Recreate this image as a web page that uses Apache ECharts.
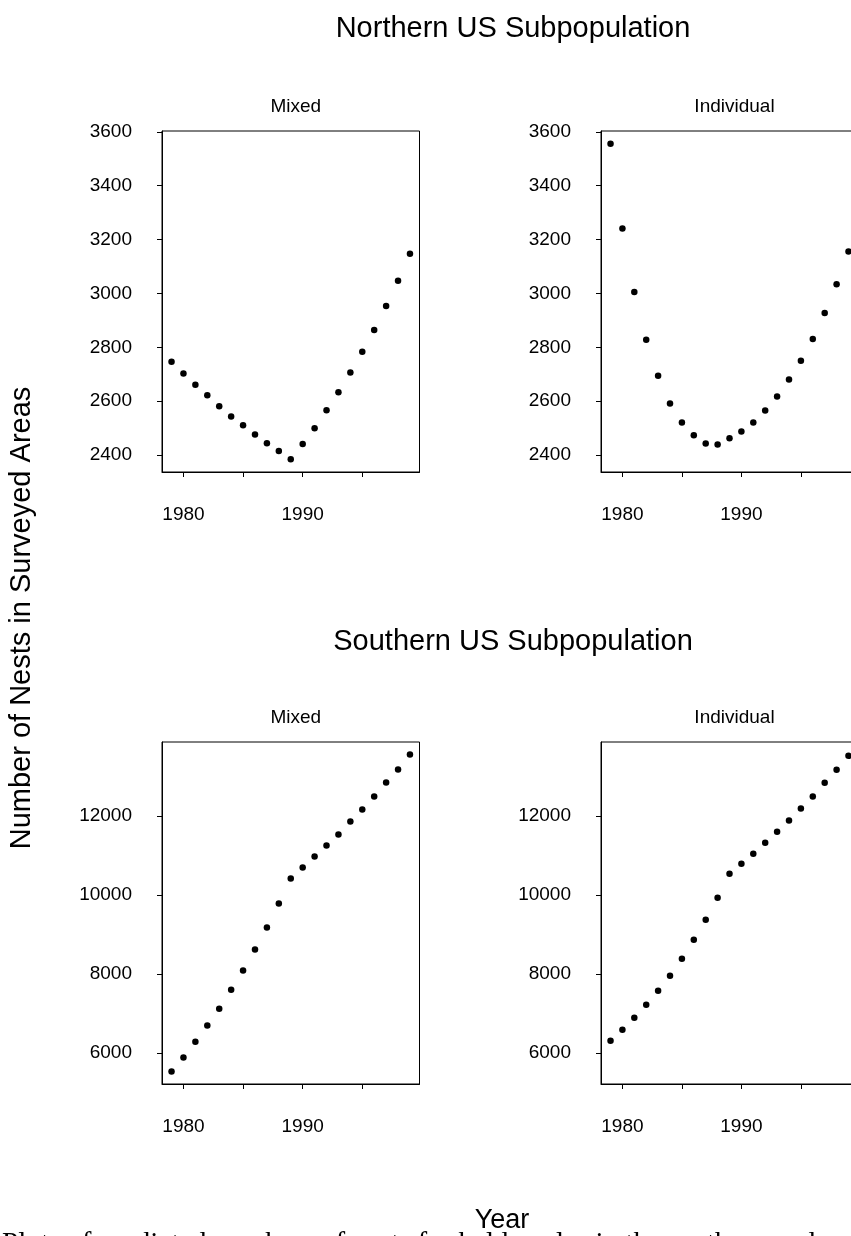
<!DOCTYPE html>
<html>
<head>
<meta charset="utf-8">
<script src="https://cdn.jsdelivr.net/npm/echarts@6/dist/echarts.min.js"></script>
<style>
  html, body { margin: 0; padding: 0; background: #fff; }
  #chart { width: 851px; height: 1236px; }
</style>
</head>
<body>
<div id="chart"></div>
<script>
// ---- data ----
const years = [1979,1980,1981,1982,1983,1984,1985,1986,1987,1988,1989,1990,1991,1992,1993,1994,1995,1996,1997,1998,1999];
const northMixed = [2746,2703,2661,2622,2581,2543,2511,2476,2444,2415,2384,2441,2499,2566,2633,2706,2783,2864,2953,3047,3147];
const northIndividual = [3556,3241,3005,2828,2694,2591,2521,2473,2443,2439,2462,2487,2521,2565,2617,2680,2750,2831,2927,3034,3156];
const southMixed = [5536,5890,6286,6699,7120,7601,8089,8620,9177,9783,10415,10694,10972,11250,11528,11857,12160,12489,12843,13171,13551];
const southIndividual = [6311,6589,6893,7221,7575,7955,8384,8865,9370,9927,10534,10786,11039,11317,11595,11882,12185,12489,12834,13163,13517];
const xTicks = [1980,1985,1990,1995];
const xLabels = [1980,1990];
const northYTicks = [2400,2600,2800,3000,3200,3400,3600];
const southYTicks = [6000,8000,10000,12000];
const panelTitles = ['Mixed','Individual','Mixed','Individual'];
const groupTitles = ['Northern US Subpopulation','Southern US Subpopulation'];
const xTitle = 'Year';
const yTitle = 'Number of Nests in Surveyed Areas';
const captionText = 'Plots of predicted numbers of nests for bald eagles in the northern and southern US';

// ---- layout ----
const FONT = '"Liberation Sans", Arial, Helvetica, sans-serif';
const grids = [
  {left: 162, top: 131, width: 257.5, height: 341},
  {left: 601, top: 131, width: 257, height: 341},
  {left: 162, top: 742, width: 257.5, height: 342},
  {left: 601, top: 742, width: 257, height: 342}
];
const yRanges = [[2337,3603],[2337,3603],[5220,13866],[5220,13866]];
const yTickSets = [northYTicks, northYTicks, southYTicks, southYTicks];
const seriesData = [northMixed, northIndividual, southMixed, southIndividual];

const pair = arr => years.map((y, i) => [y, arr[i]]);

const option = {
  backgroundColor: '#fff',
  animation: false,
  textStyle: {fontFamily: FONT, color: '#000'},
  grid: grids.map(g => Object.assign({show: true, borderColor: '#000', borderWidth: 1, backgroundColor: 'transparent',
    containLabel: false, outerBoundsMode: 'none'}, g)),
  xAxis: grids.map((g, i) => ({
    type: 'value', gridIndex: i, min: 1978.2, max: 1999.8,
    axisLine: {show: true, onZero: false, lineStyle: {color: '#000', width: 1}},
    axisTick: {show: true, inside: false, length: 5, customValues: xTicks, lineStyle: {color: '#000'}},
    axisLabel: {show: true, margin: 33, fontSize: 19, fontFamily: FONT, color: '#000', customValues: xLabels,
      formatter: v => String(v)},
    splitLine: {show: false}
  })),
  yAxis: grids.map((g, i) => ({
    type: 'value', gridIndex: i, min: yRanges[i][0], max: yRanges[i][1],
    axisLine: {show: true, onZero: false, lineStyle: {color: '#000', width: 1}},
    axisTick: {show: true, inside: false, length: 5, customValues: yTickSets[i], lineStyle: {color: '#000'}},
    axisLabel: {show: true, margin: 30, fontSize: 19, fontFamily: FONT, color: '#000', customValues: yTickSets[i],
      formatter: v => String(v)},
    splitLine: {show: false}
  })),
  series: seriesData.map((d, i) => ({
    type: 'scatter', xAxisIndex: i, yAxisIndex: i,
    data: pair(d), symbol: 'circle', symbolSize: 6.5,
    itemStyle: {color: '#000', opacity: 1}, silent: true
  })),
  title: [
    {text: groupTitles[0], left: 508, top: 24, textAlign: 'center', textVerticalAlign: 'middle',
      textStyle: {fontSize: 29, fontWeight: 'normal', fontFamily: FONT, color: '#000'}},
    {text: groupTitles[1], left: 508, top: 637, textAlign: 'center', textVerticalAlign: 'middle',
      textStyle: {fontSize: 29, fontWeight: 'normal', fontFamily: FONT, color: '#000'}}
  ].concat(grids.map((g, i) => ({
    text: panelTitles[i], left: g.left + g.width / 2, top: g.top - 29, textAlign: 'center', textVerticalAlign: 'middle',
    textStyle: {fontSize: 19, fontWeight: 'normal', fontFamily: FONT, color: '#000'}
  }))),
  graphic: [
    {type: 'text', x: 502, y: 1221, style: {text: xTitle, font: '27px ' + FONT, fill: '#000', align: 'center', verticalAlign: 'middle'}, silent: true},
    {type: 'text', x: 22, y: 618, rotation: Math.PI / 2, style: {text: yTitle, font: '29px ' + FONT, fill: '#000', align: 'center', verticalAlign: 'middle'}, silent: true},
    {type: 'text', x: 2, y: 1230, style: {text: captionText, font: '29px "Liberation Serif", "Times New Roman", serif', fill: '#000', align: 'left', verticalAlign: 'top'}, silent: true}
  ]
};

const chart = echarts.init(document.getElementById('chart'), null, {renderer: 'canvas'});
chart.setOption(option);
</script>
</body>
</html>
